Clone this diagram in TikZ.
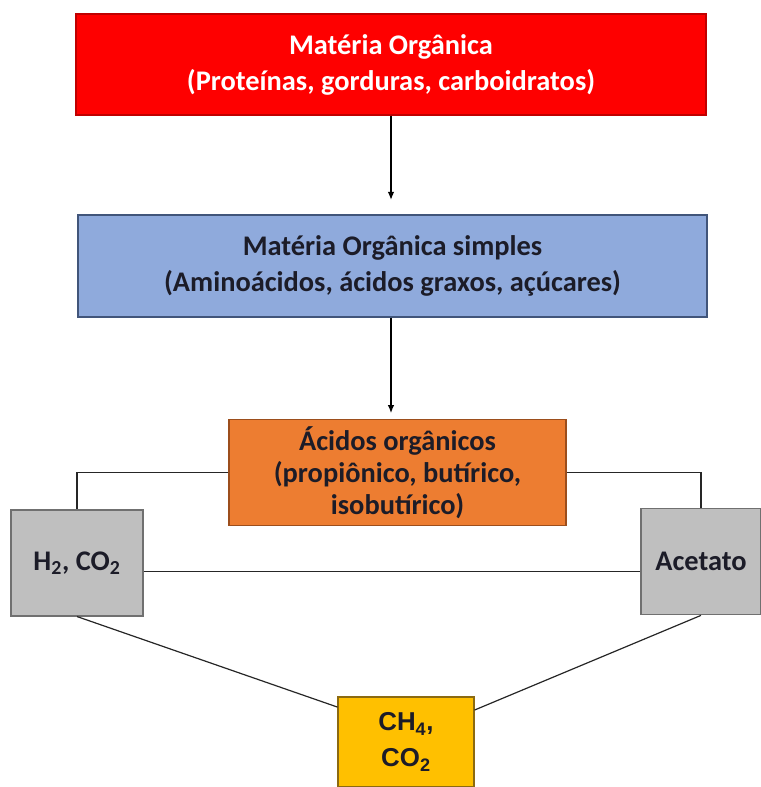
\documentclass[tikz,border=0pt]{standalone}
\usepackage{fontspec}
\setmainfont{Carlito}
\newfontfamily\arialfont{Liberation Sans}
\usepackage{tikz}
\usetikzlibrary{arrows.meta}
\definecolor{vermelho}{HTML}{FE0000}
\definecolor{vermelhoesc}{HTML}{C00000}
\definecolor{azul}{HTML}{8FAADC}
\definecolor{azulesc}{HTML}{41557A}
\definecolor{laranja}{HTML}{ED7D31}
\definecolor{laranjaesc}{HTML}{9C4E1C}
\definecolor{cinza}{HTML}{BFBFBF}
\definecolor{cinzaesc}{HTML}{707070}
\definecolor{amarelo}{HTML}{FFC000}
\definecolor{amareloesc}{HTML}{8C6A10}
\definecolor{textoesc}{HTML}{1C1C28}
\tikzset{caixa/.style={draw,rectangle,align=center,line width=0.8pt,
		inner sep=0pt,font=\bfseries\fontsize{21.3}{27}\selectfont},
	vermelha/.style={caixa,fill=vermelho,draw=vermelhoesc,text=white},
	azulada/.style={caixa,fill=azul,draw=azulesc,text=textoesc},
	laranjada/.style={caixa,fill=laranja,draw=laranjaesc,text=textoesc,
		font=\bfseries\fontsize{21.3}{24}\selectfont},
	cinzenta/.style={caixa,fill=cinza,draw=cinzaesc,text=textoesc},
	amarela/.style={caixa,fill=amarelo,draw=amareloesc,text=textoesc,
		font=\arialfont\bfseries\fontsize{19.4}{27}\selectfont},
	seta/.style={-{Latex[length=6pt,width=5pt]},line width=0.9pt},
	liga/.style={line width=0.9pt,black!85}}

\begin{document}
\begin{tikzpicture}
	[x=0.75pt,y=-0.75pt]

	\useasboundingbox (0,0) rectangle (760,787);

	\node [vermelha,minimum width=472.5pt,minimum height=75.75pt] (mo) at (391,64.5)
	{Matéria Orgânica\\(Proteínas, gorduras, carboidratos)};
	\node [azulada,minimum width=471.75pt,minimum height=76.5pt] (mos) at (392.5,266)
	{Matéria Orgânica simples\\(Aminoácidos, ácidos graxos, açúcares)};
	\node [laranjada,minimum width=252.75pt,minimum height=80pt] (acid) at (397.5,472.5)
	{Ácidos orgânicos\\(propiônico, butírico,\\isobutírico)};
	\node [cinzenta,minimum width=99pt,minimum height=79.5pt] (h2) at (77,563)
	{H\textsubscript{2}, CO\textsubscript{2}};
	\node [cinzenta,minimum width=90pt,minimum height=80pt] (acet) at (701,561.5)
	{Acetato};
	\node [amarela,minimum width=102pt,minimum height=67.5pt] (ch4) at (406,742)
	{CH\textsubscript{4},\\CO\textsubscript{2}};

	\draw [seta] (mo.south) -- (mo.south |- mos.north) [shorten >=11pt];
	\draw [seta,shorten >=4.5pt] (391,317.5) -- (391,419);
	\draw [liga] (acid.west) -| (h2.north);
	\draw [liga] (acid.east) -| (acet.north);
	\draw [liga] (h2.-7) -- (acet.west |- h2.-7);
	\draw [liga] (h2.south) -- (ch4.153);
	\draw [liga] (acet.south) -- (ch4.25);
\end{tikzpicture}
\end{document}
